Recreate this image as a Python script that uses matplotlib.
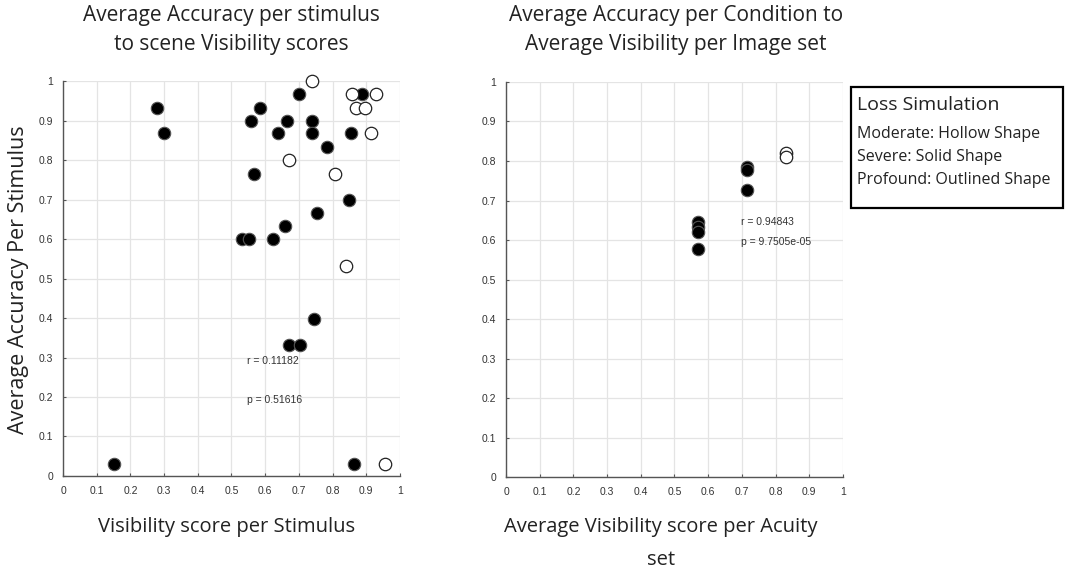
import matplotlib
matplotlib.use('Agg')
import matplotlib.pyplot as plt
from matplotlib.ticker import FormatStrFormatter, MultipleLocator

# per-stimulus scores (left panel)
stim_solid_x = [0.278, 0.301, 0.585, 0.558, 0.664, 0.738, 0.639, 0.738, 0.701, 0.888,
                0.855, 0.784, 0.568, 0.849, 0.753, 0.658, 0.532, 0.552, 0.622,
                0.745, 0.672, 0.703, 0.151, 0.864]
stim_solid_y = [0.933, 0.868, 0.933, 0.900, 0.900, 0.900, 0.868, 0.868, 0.967, 0.967,
                0.868, 0.832, 0.765, 0.699, 0.665, 0.633, 0.599, 0.599, 0.599,
                0.397, 0.332, 0.332, 0.030, 0.030]
stim_hollow_x = [0.738, 0.859, 0.928, 0.869, 0.896, 0.913, 0.670, 0.807, 0.839, 0.955]
stim_hollow_y = [1.000, 0.967, 0.967, 0.933, 0.933, 0.868, 0.800, 0.765, 0.532, 0.030]

# per image set averages (right panel)
set_solid_x = [0.571, 0.571, 0.571, 0.571, 0.716, 0.716, 0.716]
set_solid_y = [0.645, 0.632, 0.620, 0.576, 0.786, 0.776, 0.727]
set_hollow_x = [0.830, 0.830]
set_hollow_y = [0.819, 0.809]

stim_r, stim_p = "0.11182", "0.51616"
set_r, set_p = "0.94843", "9.7505e-05"

title_font = ['Open Sans', 'DejaVu Sans']
tick_font = ['Liberation Sans Narrow', 'Liberation Sans', 'DejaVu Sans']

fig = plt.figure(figsize=(10.68, 5.71), dpi=100)
ax1 = fig.add_axes([0.059, 0.1664, 0.3155, 0.6916])
ax2 = fig.add_axes([0.4738, 0.1646, 0.3155, 0.6918])


def style_axes(ax):
    ax.set_xlim(0, 1)
    ax.set_ylim(0, 1)
    ax.xaxis.set_major_locator(MultipleLocator(0.1))
    ax.yaxis.set_major_locator(MultipleLocator(0.1))
    ax.xaxis.set_major_formatter(FormatStrFormatter('%g'))
    ax.yaxis.set_major_formatter(FormatStrFormatter('%g'))
    ax.grid(True, color='#e4e4e4', linewidth=0.9)
    ax.set_axisbelow(True)
    for side in ['top', 'right']:
        ax.spines[side].set_visible(False)
    for side in ['left', 'bottom']:
        ax.spines[side].set_color('#555555')
        ax.spines[side].set_linewidth(1.0)
    ax.tick_params(direction='in', length=2.5, width=0.8, color='#555555',
                   labelsize=7.5, labelcolor='#333333', pad=7)
    for lab in ax.get_xticklabels() + ax.get_yticklabels():
        lab.set_family(tick_font)


def scatter_pairs(ax, sx, sy, hx, hy):
    ax.scatter(sx, sy, s=80, facecolor='black', edgecolor='#555555',
               linewidth=0.8, zorder=3, clip_on=False)
    ax.scatter(hx, hy, s=80, facecolor='white', edgecolor='#222222',
               linewidth=0.9, zorder=3, clip_on=False)


style_axes(ax1)
scatter_pairs(ax1, stim_solid_x, stim_solid_y, stim_hollow_x, stim_hollow_y)
ax1.text(0.545, 0.292, 'r = ' + stim_r, fontsize=7.5, family=tick_font,
         color='#333333', va='center')
ax1.text(0.545, 0.192, 'p = ' + stim_p, fontsize=7.5, family=tick_font,
         color='#333333', va='center')

style_axes(ax2)
scatter_pairs(ax2, set_solid_x, set_solid_y, set_hollow_x, set_hollow_y)
ax2.text(0.698, 0.646, 'r = ' + set_r, fontsize=7.5, family=tick_font,
         color='#333333', va='center')
ax2.text(0.698, 0.596, 'p = ' + set_p, fontsize=7.5, family=tick_font,
         color='#333333', va='center')

# titles and axis labels
label_kw = dict(ha='center', va='center', family=title_font, color='#222222')
fig.text(0.217, 0.972, 'Average Accuracy per stimulus', fontsize=15, **label_kw)
fig.text(0.217, 0.922, 'to scene Visibility scores', fontsize=15, **label_kw)
fig.text(0.633, 0.972, 'Average Accuracy per Condition to', fontsize=15, **label_kw)
fig.text(0.633, 0.922, 'Average Visibility per Image set', fontsize=15, **label_kw)

fig.text(0.017, 0.51, 'Average Accuracy Per Stimulus', rotation=90,
         fontsize=15.5, **label_kw)
fig.text(0.212, 0.077, 'Visibility score per Stimulus', fontsize=14.5, **label_kw)
fig.text(0.619, 0.077, 'Average Visibility score per Acuity', fontsize=14.5, **label_kw)
fig.text(0.619, 0.020, 'set', fontsize=14.5, **label_kw)

# note box describing marker shapes
legend_lines = ['Moderate: Hollow Shape', 'Severe: Solid Shape', 'Profound: Outlined Shape']
box = plt.Rectangle((0.7965, 0.636), 0.1985, 0.211, transform=fig.transFigure,
                    facecolor='white', edgecolor='black', linewidth=1.6)
fig.add_artist(box)
fig.text(0.8025, 0.816, 'Loss Simulation', fontsize=14, family=title_font,
         color='#222222', va='center')
for i, line in enumerate(legend_lines):
    fig.text(0.8025, 0.765 - i * 0.0405, line, fontsize=11.5, family=title_font,
             color='#222222', va='center')

plt.savefig('out.png', dpi=100)
plt.close()
